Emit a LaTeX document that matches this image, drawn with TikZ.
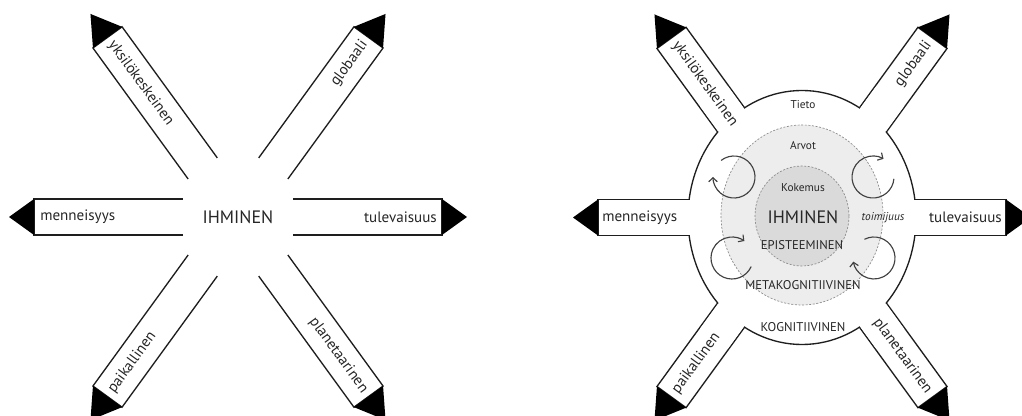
\documentclass[tikz,border=0pt]{standalone}
\usepackage{fontspec}
\setmainfont{PT Sans}
\usetikzlibrary{arrows.meta}
\definecolor{ink}{HTML}{1E1E1E}
\definecolor{txt}{HTML}{262626}
\definecolor{midgray}{HTML}{EDEDED}
\definecolor{coregray}{HTML}{DADADA}
\definecolor{dashgray}{HTML}{8A8A8A}
\definecolor{cycgray}{HTML}{404040}
\tikzset{
  bandline/.style={draw=ink, line width=1pt, line join=miter},
  tipfill/.style={fill=black},
  armlbl/.style={text=txt, font=\fontsize{11.3}{13}\selectfont, inner sep=0pt},
  biglbl/.style={text=txt, font=\fontsize{13.5}{16}\selectfont, inner sep=0pt},
  smalllbl/.style={text=txt, font=\fontsize{8.5}{10}\selectfont, inner sep=0pt},
  caplbl/.style={text=txt, font=\fontsize{9.5}{11}\selectfont, inner sep=0pt},
  ringline/.style={draw=ink, line width=1pt},
  dashring/.style={draw=dashgray, line width=0.5pt, dash pattern=on 1.5pt off 1.2pt},
  cyc/.style={draw=cycgray, line width=0.85pt, -{Straight Barb[length=3pt,width=6.5pt]}},
}
\newcommand\armshape[5]{%
  \begin{scope}[shift={#1}, rotate=#2]
    \draw[bandline] (#3,18) -- (#4,18) -- (#4,-18) -- (#3,-18);
    \fill[tipfill] (#4,18) -- (#5,0) -- (#4,-18) -- cycle;
  \end{scope}}
\newcommand\armgap[2]{%
  \begin{scope}[shift={#1}, rotate=#2]
    \fill[white] (92,-17.1) rectangle (150,17.1);
  \end{scope}}
\begin{document}
\begin{tikzpicture}[x=0.75pt, y=0.75pt]
\useasboundingbox (0,0) rectangle (1022,-416);
\clip (0,0) rectangle (1022,-416);
% ---------- left diagram ----------
\coordinate (L) at (238,-217);
\armshape{(L)}{0}{55}{204}{229}
\armshape{(L)}{180}{55}{204}{229}
\armshape{(L)}{54}{60}{222}{251}
\armshape{(L)}{126}{60}{222}{251}
\armshape{(L)}{-54}{60}{222}{251}
\armshape{(L)}{-126}{60}{222}{251}
\node[biglbl] (lhum) at (L) {IHMINEN};
\node[armlbl, anchor=west] (lpast) at ([shift={(L)}]180:198) {menneisyys};
\node[armlbl, anchor=east] (lfut) at ([shift={(L)}]0:199) {tulevaisuus};
\node[armlbl, anchor=west, rotate=-54] (lind) at ([shift={(L)}]126:216) {yksilökeskeinen};
\node[armlbl, anchor=east, rotate=54] (lglob) at ([shift={(L)}]54:216) {globaali};
\node[armlbl, anchor=west, rotate=54] (lloc) at ([shift={(L)}]-126:216) {paikallinen};
\node[armlbl, anchor=east, rotate=-54] (lplan) at ([shift={(L)}]-54:216) {planetaarinen};
% ---------- right diagram ----------
\coordinate (R) at (802,-217.5);
\armshape{(R)}{0}{60}{204}{229}
\armshape{(R)}{180}{60}{204}{229}
\armshape{(R)}{54}{60}{222}{251}
\armshape{(R)}{126}{60}{222}{251}
\armshape{(R)}{-54}{60}{222}{251}
\armshape{(R)}{-126}{60}{222}{251}
\filldraw[fill=white, ringline] (R) ellipse [x radius=114, y radius=127];
\armgap{(R)}{0}
\armgap{(R)}{180}
\armgap{(R)}{54}
\armgap{(R)}{126}
\armgap{(R)}{-54}
\armgap{(R)}{-126}
\filldraw[fill=midgray, dashring] (802,-215) ellipse [x radius=81, y radius=90];
\filldraw[fill=coregray, dashring] (802,-216) ellipse [x radius=47, y radius=50];
% circular arrows
\draw[cyc] ([shift={(734,-177)}]128:21) arc[start angle=128, end angle=-180, radius=21];
\draw[cyc] ([shift={(873,-177)}]-5:21) arc[start angle=-5, end angle=-300, radius=21];
\draw[cyc] ([shift={(732,-258)}]-24:21) arc[start angle=-24, end angle=-306, radius=21];
\draw[cyc] ([shift={(874,-258)}]117:21) arc[start angle=117, end angle=-170, radius=21];
% texts
\node[smalllbl] (tieto) at (803,-105) {Tieto};
\node[smalllbl] (arvot) at (803,-146) {Arvot};
\node[smalllbl] (kokemus) at (803,-188) {Kokemus};
\node[biglbl] (rhum) at (803,-217) {IHMINEN};
\node[caplbl] (epis) at (802,-245) {EPISTEEMINEN};
\node[caplbl] (meta) at (803,-285) {METAKOGNITIIVINEN};
\node[caplbl] (kogn) at (803,-327) {KOGNITIIVINEN};
\node[smalllbl, font=\fontsize{8.5}{10}\selectfont\itshape] (toim) at (883,-218) {toimijuus};
\node[armlbl, anchor=west] (rpast) at ([shift={(R)}]180:200) {menneisyys};
\node[armlbl, anchor=east] (rfut) at ([shift={(R)}]0:200) {tulevaisuus};
\node[armlbl, anchor=west, rotate=-54] (rind) at ([shift={(R)}]126:216) {yksilökeskeinen};
\node[armlbl, anchor=east, rotate=54] (rglob) at ([shift={(R)}]54:216) {globaali};
\node[armlbl, anchor=west, rotate=54] (rloc) at ([shift={(R)}]-126:216) {paikallinen};
\node[armlbl, anchor=east, rotate=-54] (rplan) at ([shift={(R)}]-54:216) {planetaarinen};
\end{tikzpicture}
\end{document}
